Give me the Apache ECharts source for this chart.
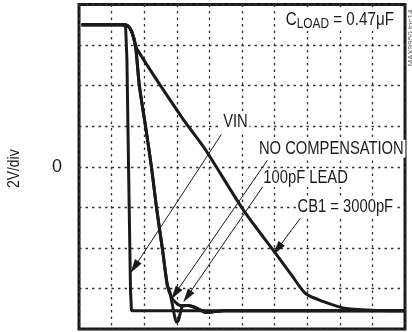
<!DOCTYPE html>
<html>
<head>
<meta charset="utf-8">
<script src="https://cdn.jsdelivr.net/npm/echarts@6/dist/echarts.min.js"></script>
<style>
  html, body { margin: 0; padding: 0; background: #fff; }
  #chart { width: 412px; height: 332px; }
</style>
</head>
<body>
<div id="chart"></div>
<script>
// Scope traces: x in horizontal divisions (0..10), y in volts (2V/div, 0 at centre)
const vinTrace = [[0.08, 7], [1.37, 7], [1.43, 6.89], [1.47, 5.3], [1.52, 0], [1.58, -6.1], [1.61, -7.1], [10, -7.1]];
const cb1Trace = [[0.08, 7], [1.37, 7], [1.49, 6.96], [1.61, 6.69], [1.69, 6.25], [1.76, 5.85], [3.17, 2.4], [3.85, 0.91],
  [5.05, -2.15], [6.03, -4.27], [6.55, -5.41], [6.95, -6.25], [7.48, -6.64], [8.19, -6.99], [9.19, -7.09], [10, -7.1]];
const noCompTrace = [[0.08, 7], [1.37, 7], [1.49, 6.96], [1.61, 6.69], [1.73, 6.0], [1.85, 4.02], [2.04, 2.0], [2.22, 0.02],
  [2.38, -2.05], [2.56, -4.07], [2.71, -5.85], [2.78, -6.15], [2.87, -6.84], [2.94, -7.43], [2.99, -7.65], [3.05, -7.58],
  [3.11, -7.19], [3.17, -6.89], [3.33, -6.84], [3.48, -6.89], [3.70, -7.04], [3.91, -7.19], [4.16, -7.14], [4.46, -7.1], [10, -7.1]];
const leadTrace = [[0.08, 7], [1.37, 7], [1.49, 6.96], [1.61, 6.69], [1.73, 6.0], [1.85, 4.02], [2.04, 2.0], [2.22, 0.02],
  [2.38, -2.05], [2.56, -4.07], [2.71, -5.85], [2.84, -6.44], [2.96, -6.69], [3.11, -6.84], [3.33, -6.84], [3.48, -6.89],
  [3.70, -7.04], [3.91, -7.19], [4.16, -7.14], [4.46, -7.1], [10, -7.1]];

// Callout arrows: [tail, head] in data coordinates
const calloutArrows = [
  [[4.37, 1.6], [1.7, -4.95]],
  [[5.78, 0.32], [2.95, -6.25]],
  [[5.75, -0.72], [3.32, -6.4]],
  [[6.79, -2.54], [6.09, -4.05]]
];
// Callout texts and their anchor points (data coordinates)
const calloutTexts = ['VIN', 'NO COMPENSATION', '100pF LEAD', 'CB1 = 3000pF'];
const calloutAnchors = [[4.8, 2.22], [7.74, 0.89], [6.95, -0.54], [8.17, -1.98]];

const FONT = "'Liberation Sans', Arial, sans-serif";
const NARROW = 0.82;   // horizontal squeeze for the condensed lettering
const INK = '#1a1a1a';

const chart = echarts.init(document.getElementById('chart'), null, { renderer: 'canvas' });

function traceSeries(name, data, smooth) {
  return {
    name: name,
    type: 'line',
    data: data,
    showSymbol: false,
    smooth: smooth,
    lineStyle: { color: INK, width: 3 },
    animation: false,
    silent: true
  };
}

const vinSeries = traceSeries('VIN', vinTrace, false);
vinSeries.markLine = {
  silent: true,
  animation: false,
  symbol: ['none', 'triangle'],
  symbolSize: [8, 14],
  label: { show: false },
  lineStyle: { type: 'solid', width: 1, color: INK },
  emphasis: { disabled: true },
  data: calloutArrows.map(a => [{ coord: a[0] }, { coord: a[1] }])
};

chart.setOption({
  animation: false,
  grid: {
    left: 79, right: 7, top: 4.5, bottom: 3,
    containLabel: false, outerBoundsMode: 'none',
    show: true, borderColor: INK, borderWidth: 3, backgroundColor: 'transparent'
  },
  xAxis: {
    type: 'value', min: 0, max: 10, interval: 1,
    axisLine: { show: false }, axisTick: { show: false }, axisLabel: { show: false },
    splitLine: { show: true, lineStyle: { color: '#333', width: 1.3, type: [2.5, 4] } }
  },
  yAxis: {
    type: 'value', min: -8, max: 8, interval: 2,
    axisLine: { show: false }, axisTick: { show: false },
    axisLabel: {
      margin: 17, fontFamily: FONT, fontSize: 18, color: INK,
      formatter: v => (v === 0 ? '0' : '')
    },
    splitLine: { show: true, lineStyle: { color: '#333', width: 1.3, type: [2.5, 4] } }
  },
  series: [
    vinSeries,
    traceSeries('CB1 = 3000pF', cb1Trace, 0.25),
    traceSeries('NO COMPENSATION', noCompTrace, 0.25),
    traceSeries('100pF LEAD', leadTrace, 0.25)
  ]
});

// Text callouts placed through the grid's coordinate system
const graphics = calloutTexts.map((t, i) => {
  const p = chart.convertToPixel({ gridIndex: 0 }, calloutAnchors[i]);
  return {
    type: 'text', x: p[0], y: p[1], z: 10, scaleX: NARROW,
    style: {
      text: t, fontFamily: FONT, fontSize: 18, fill: INK,
      align: 'center', verticalAlign: 'middle',
      backgroundColor: '#fff', padding: [0, 2]
    }
  };
});
const loadPos = chart.convertToPixel({ gridIndex: 0 }, [9.71, 7.23]);
graphics.push({
  type: 'text', x: loadPos[0], y: loadPos[1], z: 10, scaleX: NARROW,
  style: {
    text: '{m|C}{s|LOAD}{m| = 0.47μF}',
    align: 'right', verticalAlign: 'middle',
    backgroundColor: '#fff', padding: [0, 2],
    rich: {
      m: { fontFamily: FONT, fontSize: 18.5, fill: INK, color: INK, lineHeight: 22 },
      s: { fontFamily: FONT, fontSize: 14.5, fill: INK, color: INK, lineHeight: 14, verticalAlign: 'bottom' }
    }
  }
});
// Vertical scale caption
const zeroPos = chart.convertToPixel({ gridIndex: 0 }, [0, 0]);
graphics.push({
  type: 'text', x: 14, y: zeroPos[1] + 2, rotation: Math.PI / 2, scaleX: NARROW, z: 10,
  style: {
    text: '2V/div', fontFamily: FONT, fontSize: 17, fill: INK,
    align: 'center', verticalAlign: 'middle'
  }
});
graphics.push({
  type: 'text', x: 411, y: 38, rotation: Math.PI / 2, z: 10,
  style: {
    text: 'MAX9950 toc14', fontFamily: FONT, fontSize: 8, fill: '#555',
    align: 'center', verticalAlign: 'middle'
  }
});
chart.setOption({ graphic: graphics });
</script>
</body>
</html>
